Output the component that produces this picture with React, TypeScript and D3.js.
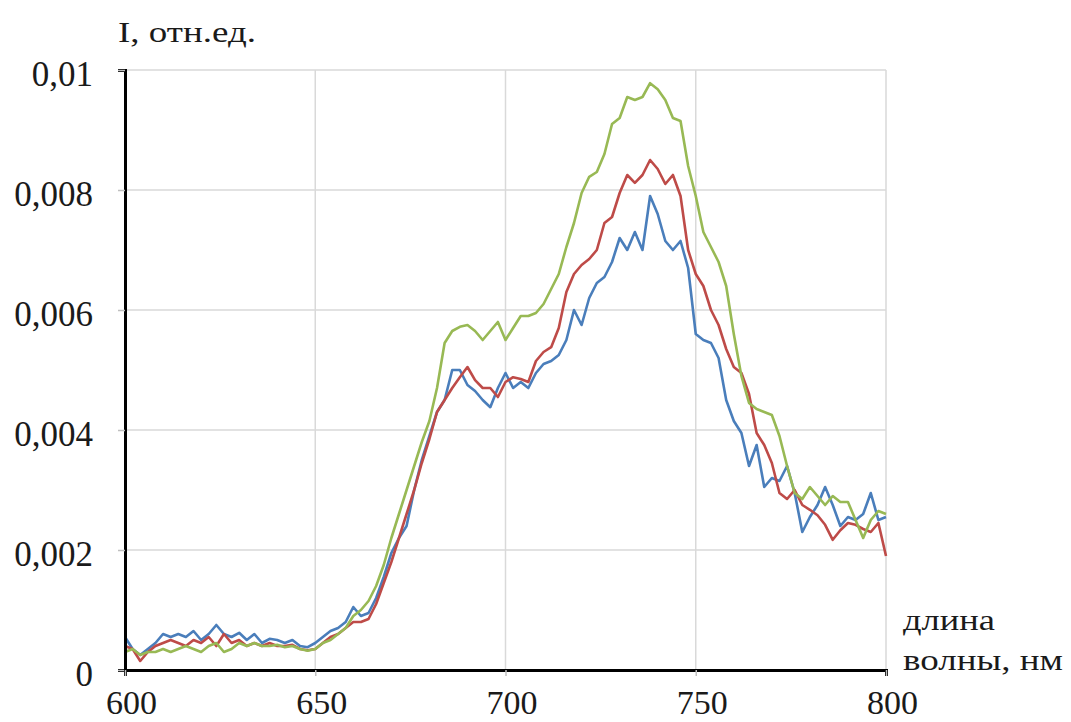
import React, { useRef, useEffect } from "react";
import * as d3 from "d3";

// wavelength, nm (step 2)
const wavelengths = d3.range(600, 801, 2);

// intensity, x0.001 rel. units
const blue = [
  0.55, 0.35, 0.25, 0.35, 0.45, 0.6, 0.55, 0.6, 0.55, 0.65,
  0.5, 0.6, 0.75, 0.6, 0.55, 0.62, 0.5, 0.6, 0.45, 0.52,
  0.5, 0.45, 0.5, 0.4, 0.38, 0.45, 0.55, 0.65, 0.7, 0.8,
  1.05, 0.9, 0.95, 1.2, 1.55, 1.95, 2.2, 2.4, 3.0, 3.5,
  3.9, 4.3, 4.5, 5.0, 5.0, 4.75, 4.65, 4.5, 4.38, 4.7,
  4.95, 4.7, 4.8, 4.7, 4.95, 5.1, 5.15, 5.25, 5.5, 6.0,
  5.75, 6.2, 6.45, 6.55, 6.8, 7.2, 7.0, 7.3, 7.0, 7.9,
  7.6, 7.15, 7.0, 7.15, 6.7, 5.6, 5.5, 5.45, 5.2, 4.5,
  4.15, 3.95, 3.4, 3.75, 3.05, 3.2, 3.15, 3.4, 2.95, 2.3,
  2.55, 2.75, 3.05, 2.75, 2.4, 2.55, 2.5, 2.6, 2.95, 2.5,
  2.55,
];

const red = [
  0.4, 0.35, 0.15, 0.3, 0.4, 0.45, 0.5, 0.45, 0.4, 0.5,
  0.45, 0.55, 0.4, 0.6, 0.45, 0.5, 0.4, 0.45, 0.4, 0.45,
  0.4, 0.4, 0.42, 0.35, 0.33, 0.35, 0.45, 0.55, 0.6, 0.7,
  0.8, 0.8, 0.85, 1.1, 1.45, 1.8, 2.2, 2.6, 3.0, 3.45,
  3.85, 4.3, 4.5, 4.7, 4.88, 5.05, 4.83, 4.7, 4.7, 4.55,
  4.8, 4.88, 4.85, 4.8, 5.15, 5.3, 5.38, 5.7, 6.3, 6.6,
  6.75, 6.85, 7.0, 7.45, 7.55, 7.95, 8.25, 8.12, 8.25, 8.5,
  8.35, 8.1, 8.25, 7.9, 7.0, 6.6, 6.4, 6.0, 5.75, 5.35,
  5.05, 4.95, 4.6, 3.95, 3.75, 3.45, 2.95, 2.85, 3.0, 2.75,
  2.67, 2.58, 2.42, 2.17, 2.33, 2.45, 2.42, 2.35, 2.3, 2.45,
  1.9,
];

const green = [
  0.3, 0.35, 0.25, 0.3, 0.3, 0.35, 0.3, 0.35, 0.4, 0.35,
  0.3, 0.4, 0.45, 0.3, 0.35, 0.45, 0.4, 0.45, 0.4, 0.4,
  0.42, 0.38, 0.4, 0.35, 0.32, 0.35, 0.45, 0.5, 0.6, 0.7,
  0.9, 1.0, 1.15, 1.4, 1.75, 2.2, 2.6, 3.0, 3.4, 3.8,
  4.15, 4.7, 5.45, 5.65, 5.72, 5.75, 5.65, 5.5, 5.65, 5.8,
  5.5, 5.7, 5.9, 5.9, 5.95, 6.1, 6.35, 6.6, 7.05, 7.45,
  7.95, 8.22, 8.3, 8.6, 9.1, 9.2, 9.55, 9.5, 9.55, 9.78,
  9.68, 9.5, 9.2, 9.15, 8.4, 7.9, 7.3, 7.05, 6.8, 6.4,
  5.6, 4.9, 4.45, 4.35, 4.3, 4.25, 3.9, 3.4, 2.95, 2.85,
  3.05, 2.9, 2.75, 2.9, 2.8, 2.8, 2.5, 2.2, 2.5, 2.65,
  2.6,
];

const series = [
  { name: "blue", values: blue, color: "#4a7ebb" },
  { name: "red", values: red, color: "#be4b48" },
  { name: "green", values: green, color: "#98b954" },
];

const yTicks = [0, 0.002, 0.004, 0.006, 0.008, 0.01];
const yTickLabels = ["0", "0,002", "0,004", "0,006", "0,008", "0,01"];
const xTicks = [600, 650, 700, 750, 800];

const W = 1071;
const H = 722;
const PLOT = { left: 125, right: 886, top: 70, bottom: 670 };
const FONT = "'Liberation Serif', 'Times New Roman', serif";

const App = () => {
  const ref = useRef<SVGSVGElement | null>(null);

  useEffect(() => {
    const svg = d3.select(ref.current);
    svg.selectAll("*").remove();

    const x = d3.scaleLinear().domain([600, 800]).range([PLOT.left, PLOT.right]);
    const y = d3.scaleLinear().domain([0, 0.01]).range([PLOT.bottom, PLOT.top]);

    // grid
    svg.append("g")
      .selectAll("line")
      .data(yTicks.slice(1))
      .join("line")
      .attr("x1", PLOT.left)
      .attr("x2", PLOT.right)
      .attr("y1", d => y(d))
      .attr("y2", d => y(d))
      .attr("stroke", "#d9d9d9")
      .attr("stroke-width", 1.5);

    svg.append("g")
      .selectAll("line")
      .data(xTicks.slice(1))
      .join("line")
      .attr("x1", d => x(d))
      .attr("x2", d => x(d))
      .attr("y1", PLOT.top)
      .attr("y2", PLOT.bottom)
      .attr("stroke", "#d9d9d9")
      .attr("stroke-width", 1.5);

    // lines
    const line = d3.line<number>()
      .x((_, i) => x(wavelengths[i]))
      .y(d => y(d / 1000));

    svg.append("g")
      .selectAll("path")
      .data(series)
      .join("path")
      .attr("d", d => line(d.values))
      .attr("fill", "none")
      .attr("stroke", d => d.color)
      .attr("stroke-width", 2.6)
      .attr("stroke-linejoin", "round");

    // axes
    const yAxis = d3.axisLeft(y)
      .tickValues(yTicks)
      .tickSize(7)
      .tickFormat((_, i) => yTickLabels[i]);
    const gy = svg.append("g").attr("transform", `translate(${PLOT.left},0)`).call(yAxis);
    gy.select(".domain").attr("stroke", "#000").attr("stroke-width", 3);
    gy.selectAll(".tick line").attr("stroke", "#bfbfbf").attr("stroke-width", 1.5);
    gy.selectAll(".tick text")
      .attr("x", -32)
      .attr("dy", "0.45em")
      .attr("font-family", FONT)
      .attr("font-size", 35)
      .attr("fill", "#1a1a1a");

    const xAxis = d3.axisBottom(x).tickValues(xTicks).tickSize(6).tickFormat(d3.format("d"));
    const gx = svg.append("g").attr("transform", `translate(0,${PLOT.bottom})`).call(xAxis);
    gx.select(".domain").attr("stroke", "#000").attr("stroke-width", 3);
    gx.selectAll(".tick line").attr("stroke", "#bfbfbf").attr("stroke-width", 1.5);
    gx.selectAll(".tick text")
      .attr("y", 20)
      .attr("dy", "0.71em")
      .attr("dx", 6)
      .attr("font-family", FONT)
      .attr("font-size", 34)
      .attr("fill", "#1a1a1a");

    // axis titles (stretched wide like the source)
    const title = (tx: number, ty: number, len: number, s: string) =>
      svg.append("text")
        .attr("x", tx)
        .attr("y", ty)
        .attr("font-family", FONT)
        .attr("font-size", 29)
        .attr("fill", "#1a1a1a")
        .attr("textLength", len)
        .attr("lengthAdjust", "spacingAndGlyphs")
        .text(s);

    title(118, 42, 138, "I, отн.ед.");
    title(903, 630, 92, "длина");
    title(903, 670, 160, "волны, нм");
  }, []);

  return (
    <svg
      ref={ref}
      width={W}
      height={H}
      style={{ position: "absolute", left: 0, top: 0, background: "#fff" }}
    />
  );
};

export default App;
